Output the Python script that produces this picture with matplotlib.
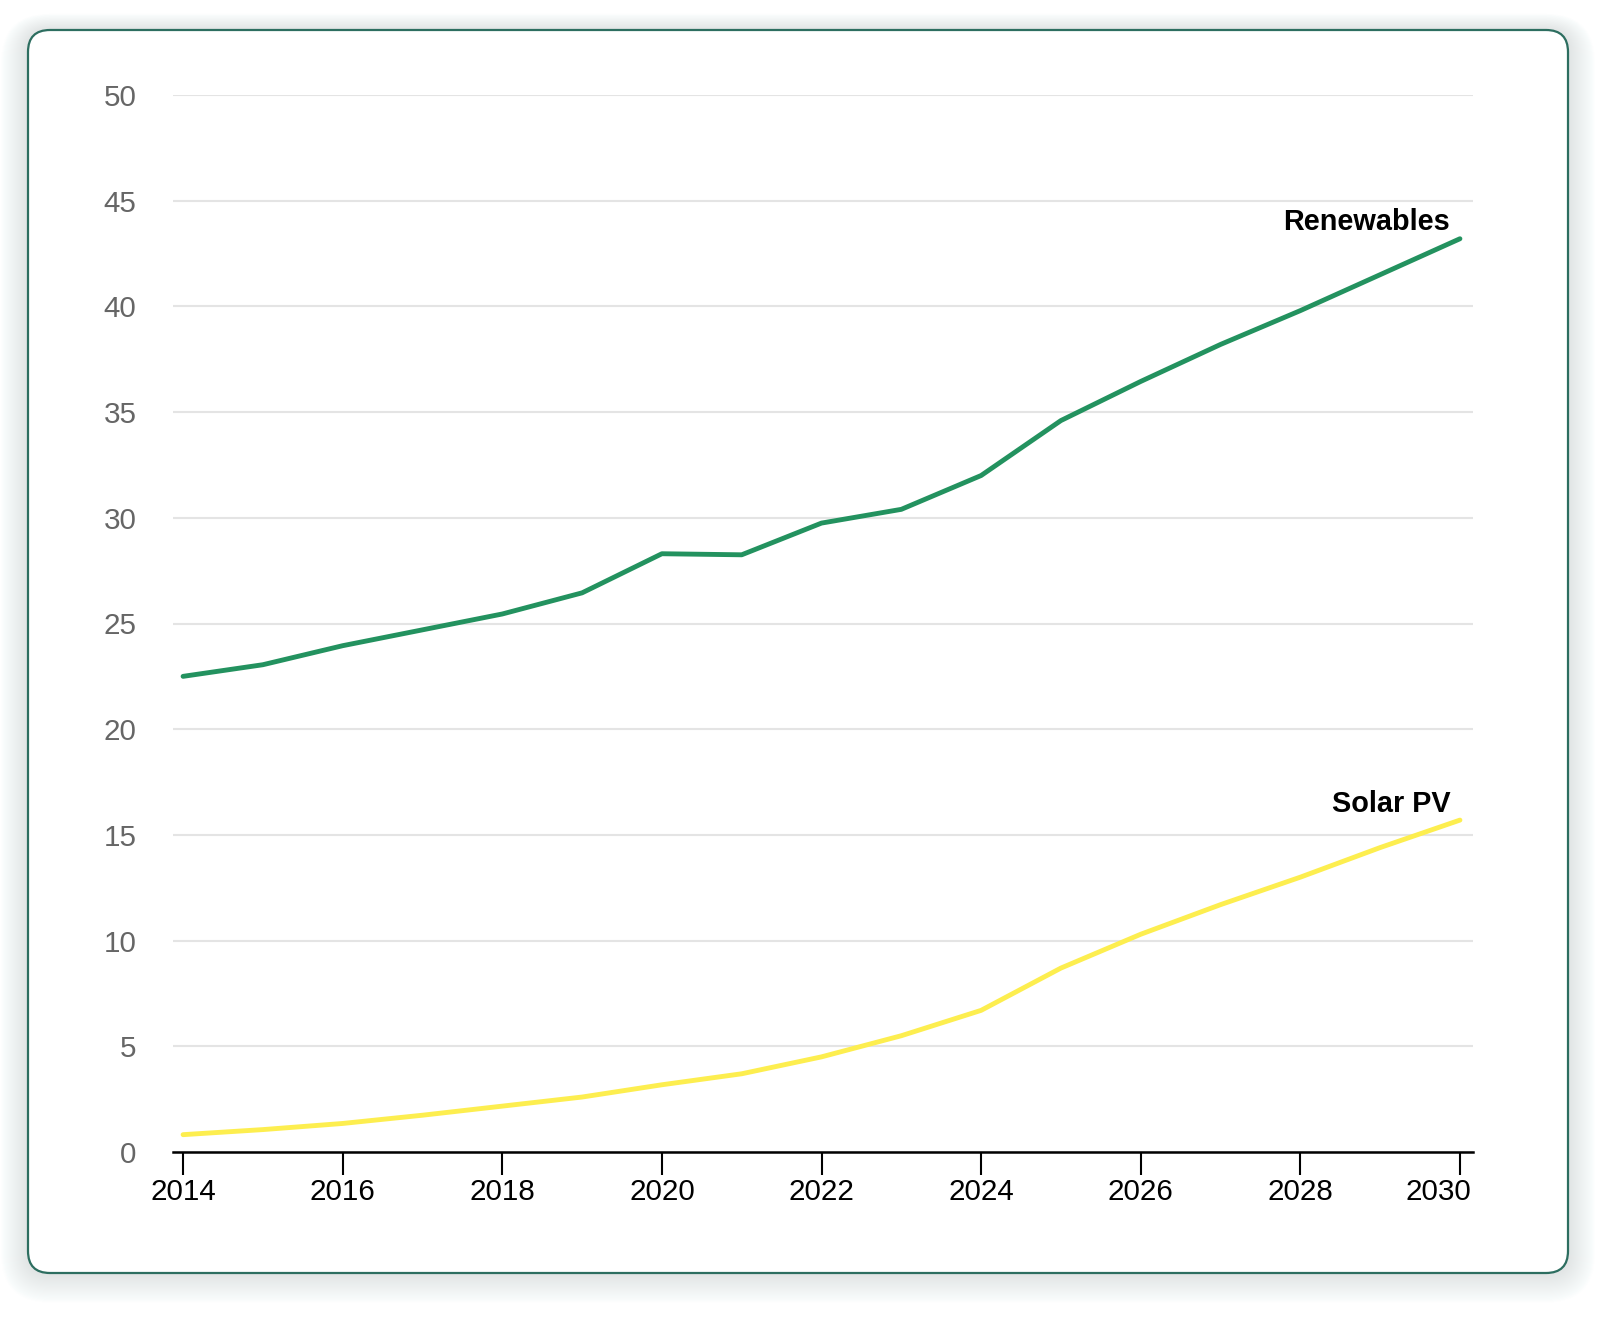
import numpy as np
import matplotlib.pyplot as plt
from matplotlib.patches import FancyBboxPatch
from matplotlib.transforms import IdentityTransform, ScaledTranslation

# data
years = list(range(2014, 2031))
renewables = [22.5, 23.05, 23.95, 24.7, 25.45, 26.45, 28.3, 28.25, 29.75, 30.4,
              32.0, 34.6, 36.45, 38.2, 39.8, 41.5, 43.2]
solar_pv = [0.82, 1.06, 1.35, 1.74, 2.17, 2.6, 3.18, 3.7, 4.5, 5.5,
            6.7, 8.7, 10.3, 11.7, 13.0, 14.4, 15.7]
series_names = ["Renewables", "Solar PV"]
series_colors = ["#23925f", "#fdee4f"]
x_ticks = list(range(2014, 2031, 2))
y_ticks = list(range(0, 51, 5))

W, H = 1600, 1341
fig = plt.figure(figsize=(W / 100, H / 100), dpi=100)
fig.patch.set_facecolor("white")
plt.rcParams["font.family"] = ["Liberation Sans", "DejaVu Sans"]


def card_box(x0, y0, x1, y1, r, **kw):
    """rounded box in pixel coords (y measured from the top)"""
    return FancyBboxPatch((x0, H - y1), x1 - x0, y1 - y0,
                          boxstyle="round,pad=0,rounding_size=%g" % r,
                          transform=IdentityTransform(), **kw)


# soft shadow around the card, heavier below
for i in range(1, 28):
    fig.patches.append(card_box(28 - i, 30 - 0.6 * i, 1568 + i, 1273 + 1.1 * i,
                                22 + i, facecolor="#a3bfb8", edgecolor="none",
                                alpha=0.011, zorder=0))
# the card itself
fig.patches.append(card_box(28, 30, 1568, 1273, 22, facecolor="white",
                            edgecolor="#2d6e60", linewidth=1.6, zorder=1))

ax = fig.add_axes([172.7 / W, 1 - 1152 / H, (1472.7 - 172.7) / W, (1152 - 95) / H])
ax.set_zorder(2)
ax.patch.set_alpha(0)
ax.set_xlim(2013.87, 2030.16)
ax.set_ylim(0, 50)

for vals, name, col in zip([renewables, solar_pv], series_names, series_colors):
    ax.plot(years, vals, color=col, lw=3.5, solid_capstyle="round",
            solid_joinstyle="round", clip_on=False, zorder=3)
    ax.annotate(name, (years[-1], vals[-1]), xytext=(-7, 6), textcoords="offset points",
                ha="right", va="baseline", fontsize=20.8, fontweight="bold", color="black")

ax.set_yticks(y_ticks)
ax.set_xticks(x_ticks)
ax.set_xticklabels([str(y) for y in x_ticks])
ax.yaxis.grid(True, color="#e4e4e4", lw=1.5)
ax.set_axisbelow(True)

for s in ["top", "right", "left"]:
    ax.spines[s].set_visible(False)
ax.spines["bottom"].set_color("black")
ax.spines["bottom"].set_linewidth(1.8)

ax.tick_params(axis="y", length=0, pad=26, labelsize=21.3, labelcolor="#666666")
ax.tick_params(axis="x", length=16.5, width=1.5, pad=2.5, labelsize=21.3,
               colors="black", direction="out")

# last year label sits flush with the axis end
last = ax.xaxis.get_major_ticks()[-1].label1
last.set_ha("right")
last.set_transform(last.get_transform() + ScaledTranslation(11 / 100, 0, fig.dpi_scale_trans))

fig.savefig("out.png", dpi=100, facecolor="white")
